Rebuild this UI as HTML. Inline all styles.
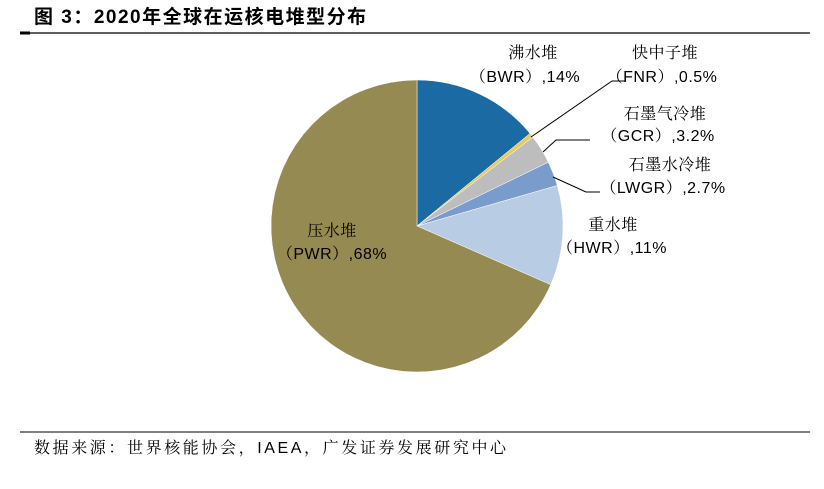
<!DOCTYPE html>
<html><head><meta charset="utf-8"><style>
body{margin:0;background:#fff;width:824px;height:484px;overflow:hidden;font-family:"Liberation Sans","Noto Sans CJK SC",sans-serif}
</style></head><body>
<svg width="824" height="484" xmlns="http://www.w3.org/2000/svg">
<text x="34" y="23" font-size="19" font-weight="bold" fill="#000" font-family="Liberation Sans, Noto Sans CJK SC, sans-serif" letter-spacing="1.5">图 3：2020年全球在运核电堆型分布</text>
<line x1="20" y1="33" x2="810" y2="33" stroke="#000" stroke-width="1.3"/>
<line x1="20" y1="33" x2="30" y2="33" stroke="#000" stroke-width="3"/>
<g stroke="#fff" stroke-width="0.5">
<path d="M417,226 L417,80 A146,146 0 0 1 530,133.5 Z" fill="#1b6aa3"/>
<path d="M417,226 L530,133.5 A146,146 0 0 1 532.8,137.1 Z" fill="#e8c95a"/>
<path d="M417,226 L532.8,137.1 A146,146 0 0 1 548.3,162.2 Z" fill="#bdbdbd"/>
<path d="M417,226 L548.3,162.2 A146,146 0 0 1 557.3,185.5 Z" fill="#7a9ccc"/>
<path d="M417,226 L557.3,185.5 A146,146 0 0 1 550.7,284.7 Z" fill="#b8cce4"/>
<path d="M417,226 L550.7,284.7 A146,146 0 1 1 417,80 Z" fill="#958a52"/>
</g>
<g stroke="#000" stroke-width="1" fill="none">
<polyline points="531,137 612,81 625,81"/>
<polyline points="543,152 556,140 590,140"/>
<polyline points="553,177 586,192 600,192"/>
</g>
<g font-size="16" fill="#000" text-anchor="middle" font-family="Liberation Sans, Noto Serif CJK SC, serif" letter-spacing="0.5">
<text x="533" y="58">沸水堆</text><text x="525" y="82">（BWR）,14%</text>
<text x="665" y="58">快中子堆</text><text x="662" y="82">（FNR）,0.5%</text>
<text x="665" y="119">石墨气冷堆</text><text x="658" y="141">（GCR）,3.2%</text>
<text x="670" y="170">石墨水冷堆</text><text x="663" y="193">（LWGR）,2.7%</text>
<text x="613" y="230">重水堆</text><text x="612" y="253">（HWR）,11%</text>
<text x="332" y="236">压水堆</text><text x="332" y="259">（PWR）,68%</text>
</g>
<line x1="20" y1="432" x2="810" y2="432" stroke="#000" stroke-width="1"/>
<text x="34" y="453" font-size="16" fill="#000" font-family="Liberation Sans, Noto Serif CJK SC, serif" letter-spacing="2.6">数据来源：世界核能协会，IAEA，广发证券发展研究中心</text>
</svg>
</body></html>
